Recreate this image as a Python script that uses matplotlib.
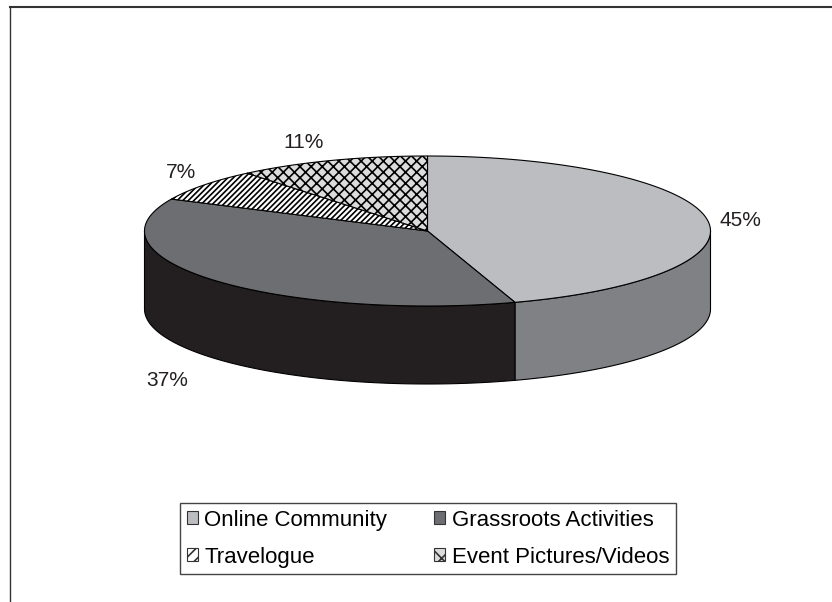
import numpy as np
import matplotlib
matplotlib.use("Agg")
import matplotlib.pyplot as plt
from matplotlib.patches import Polygon, Patch
from matplotlib.lines import Line2D

# ---- data ----
categories = ["Online Community", "Grassroots Activities", "Travelogue", "Event Pictures/Videos"]
shares = [45, 37, 7, 11]
labels = ["45%", "37%", "7%", "11%"]

# ---- style ----
top_colors = ["#bcbdc0", "#6d6e71", "#ffffff", "#dcdcdc"]
side_colors = ["#808184", "#231f20", "#ffffff", "#dcdcdc"]
hatches = [None, None, "//////", "xxx"]
legend_hatches = [None, None, "///", "xx"]
label_pos = [(740, 221), (167, 380), (181, 172), (304, 143)]

plt.rcParams["font.family"] = ["Liberation Sans", "DejaVu Sans"]
plt.rcParams["hatch.linewidth"] = 1.2

fig = plt.figure(figsize=(8.32, 6.02), dpi=100)
ax = fig.add_axes([0, 0, 1, 1])
ax.set_xlim(0, 832)
ax.set_ylim(602, 0)
ax.axis("off")

cx, cy, a, b, depth = 427.5, 231, 283, 75, 78

def pt(t, dy=0.0):
    r = np.deg2rad(t)
    return cx + a * np.cos(r), cy - b * np.sin(r) + dy

frac = np.array(shares, dtype=float) / np.sum(shares)
starts = 90 - 360 * np.concatenate([[0], np.cumsum(frac)[:-1]])
ends = starts - 360 * frac

# side walls (front half only)
for i in range(len(shares)):
    lo, hi = ends[i], starts[i]
    for flo, fhi in [(-180, 0), (-540, -360), (180, 360)]:
        s_lo, s_hi = max(lo, flo), min(hi, fhi)
        if s_hi > s_lo:
            ts = np.linspace(s_lo, s_hi, 100)
            top = [pt(t) for t in ts]
            bot = [pt(t, depth) for t in ts[::-1]]
            ax.add_patch(Polygon(top + bot, closed=True, facecolor=side_colors[i],
                                 edgecolor="black", linewidth=0.8, hatch=hatches[i]))

# top surface
for i in range(len(shares)):
    ts = np.linspace(starts[i], ends[i], 200)
    verts = [(cx, cy)] + [pt(t) for t in ts]
    ax.add_patch(Polygon(verts, closed=True, facecolor=top_colors[i],
                         edgecolor="black", linewidth=0.8, hatch=hatches[i]))

for (x, y), s in zip(label_pos, labels):
    ax.text(x, y, s, ha="center", va="center", fontsize=15, color="#231f20")

handles = [Patch(facecolor=top_colors[i], edgecolor="#333333", hatch=legend_hatches[i], linewidth=0.8)
           for i in range(len(categories))]
order = [0, 2, 1, 3]  # row-major layout in two columns
leg = fig.legend([handles[i] for i in order], [categories[i] for i in order], ncol=2, fontsize=16,
                 loc="upper left", bbox_to_anchor=(180 / 832, 1 - 503 / 602), frameon=True,
                 fancybox=False, edgecolor="#444444", framealpha=1, handlelength=0.5,
                 handleheight=0.5, handletextpad=0.3, columnspacing=2.1, labelspacing=0.72,
                 borderpad=0.3, borderaxespad=0)
leg.get_frame().set_linewidth(1.0)

# outer frame (top and left edges)
fig.add_artist(Line2D([10 / 832, 1], [1 - 7 / 602, 1 - 7 / 602], transform=fig.transFigure,
                      color="#333333", linewidth=1.5))
fig.add_artist(Line2D([10 / 832, 10 / 832], [0, 1 - 7 / 602], transform=fig.transFigure,
                      color="#333333", linewidth=1.0))

fig.savefig("out.png", dpi=100)
